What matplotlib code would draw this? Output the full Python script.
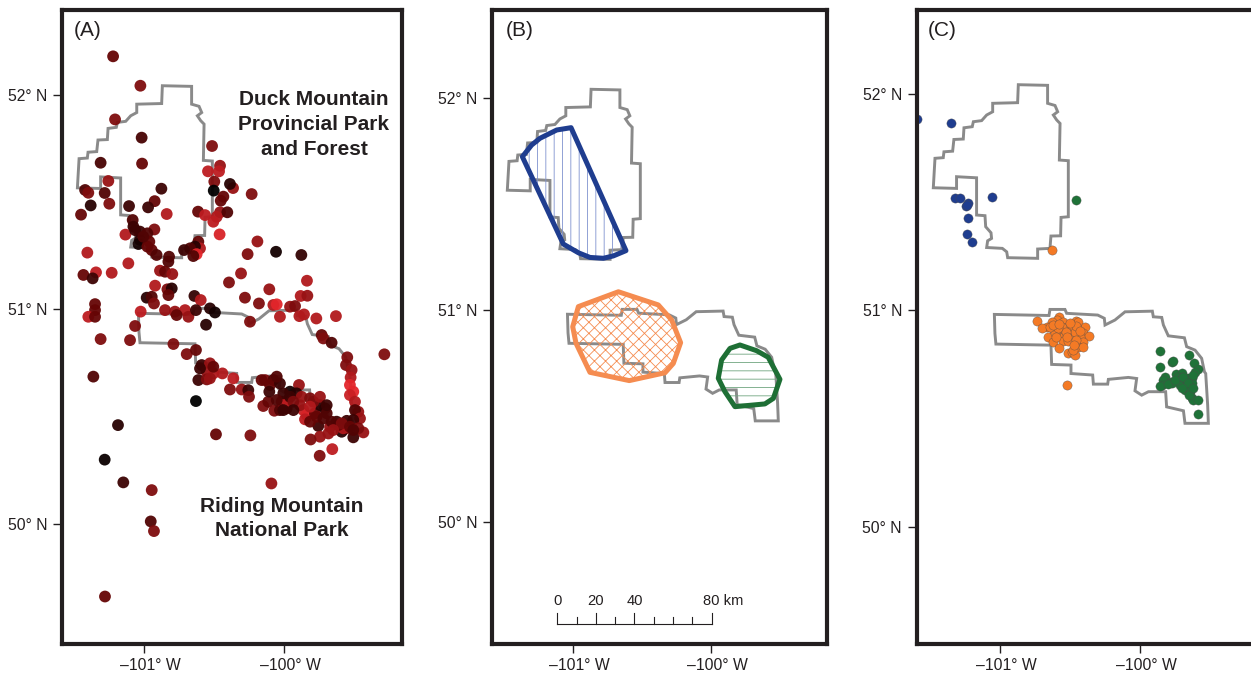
import matplotlib
matplotlib.use('Agg')
import matplotlib.pyplot as plt
from matplotlib.colors import LinearSegmentedColormap
from matplotlib.patches import Polygon
from matplotlib.transforms import ScaledTranslation

plt.rcParams['font.family'] = ['Liberation Sans', 'DejaVu Sans']
plt.rcParams['hatch.linewidth'] = 0.6

W, H = 1251, 673
TINTA = '#231f20'

# Limites de los parques (lon, lat)
duck_lon = [-100.869, -100.660, -100.660, -100.607, -100.588, -100.619, -100.595, -100.571, -100.576, -100.512,
            -100.512, -100.564, -100.567, -100.636, -100.643, -100.731, -100.731, -100.945, -100.952, -100.983,
            -101.095, -101.088, -101.060, -101.064, -101.102, -101.107, -101.167, -101.167, -101.310, -101.310,
            -101.476, -101.464, -101.405, -101.400, -101.338, -101.329, -101.262, -101.257, -101.198, -101.190,
            -101.131, -101.095, -101.052, -101.052, -100.874]
duck_lat = [52.041, 52.038, 51.955, 51.945, 51.916, 51.901, 51.878, 51.862, 51.693, 51.690,
            51.431, 51.428, 51.343, 51.342, 51.285, 51.282, 51.239, 51.242, 51.269, 51.285,
            51.289, 51.320, 51.331, 51.357, 51.385, 51.436, 51.439, 51.611, 51.616, 51.562,
            51.565, 51.701, 51.704, 51.731, 51.734, 51.788, 51.790, 51.842, 51.847, 51.870,
            51.875, 51.901, 51.916, 51.955, 51.958]
riding_lon = [-101.040, -100.650, -100.643, -100.536, -100.524, -100.302, -100.255, -100.250, -100.179, -100.107,
              -99.912, -99.905, -99.845, -99.833, -99.798, -99.683, -99.667, -99.607, -99.560, -99.540,
              -99.531, -99.517, -99.512, -99.679, -99.690, -99.810, -99.817, -99.940, -99.988, -100.036,
              -100.024, -100.083, -100.226, -100.231, -100.333, -100.338, -100.493, -100.493, -100.631, -100.636,
              -101.029, -101.036]
riding_lat = [50.980, 50.975, 51.003, 51.003, 50.985, 50.977, 50.962, 50.931, 50.954, 50.992,
              50.995, 50.969, 50.966, 50.931, 50.881, 50.872, 50.831, 50.815, 50.777, 50.715,
              50.707, 50.561, 50.477, 50.477, 50.535, 50.553, 50.623, 50.623, 50.607, 50.627,
              50.684, 50.689, 50.680, 50.658, 50.658, 50.700, 50.707, 50.746, 50.749, 50.838,
              50.843, 50.892]

# Panel A: puntos (lon, lat, tono 0 negro - 1 rojo)
a_lon = [-101.221, -101.026, -101.207, -101.017, -101.310, -101.014, -100.514, -100.457, -100.543, -100.464,
         -100.498, -101.255, -100.876, -100.364, -100.386, -100.502, -100.231, -101.421, -101.398, -101.281,
         -100.433, -100.452, -100.924, -101.381, -101.248, -101.450, -101.107, -100.971, -100.838, -100.614,
         -100.564, -100.457, -100.405, -100.481, -100.505, -101.081, -101.076, -100.926, -101.133, -100.460,
         -101.029, -100.976, -101.029, -101.040, -100.962, -100.976, -100.945, -100.910, -100.821, -101.112,
         -100.190, -100.260, -100.057, -99.876, -101.405, -100.612, -100.600, -100.636, -100.671, -100.714,
         -100.624, -100.648, -100.826, -100.886, -100.850, -100.798, -101.433, -101.343, -101.367, -101.231,
         -100.307, -100.393, -99.836, -100.921, -100.833, -100.802, -100.826, -100.105, -100.981, -100.945,
         -100.929, -100.640, -100.595, -100.279, -99.881, -99.833, -100.179, -100.076, -100.052, -99.957,
         -99.921, -101.350, -101.350, -101.024, -100.850, -100.779, -100.707, -100.683, -100.767, -100.629,
         -100.529, -100.493, -100.029, -99.890, -99.857, -99.769, -99.629, -101.398, -101.350, -100.243,
         -101.064, -100.557, -101.310, -101.100, -100.790, -100.695, -100.629, -99.731, -99.719, -99.660,
         -99.548, -99.283, -99.557, -99.517, -99.524, -99.529, -99.505, -99.529, -99.493, -99.469,
         -99.493, -99.457, -99.505, -99.433, -99.505, -99.564, -99.588, -101.362, -100.588, -100.529,
         -100.552, -100.505, -100.440, -100.600, -100.612, -100.552, -100.362, -100.386, -100.302, -100.255,
         -100.250, -100.629, -101.186, -100.486, -100.240, -100.148, -100.112, -100.069, -100.029, -99.981,
         -100.136, -100.076, -100.100, -100.029, -100.105, -99.893, -99.957, -99.910, -100.017, -99.976,
         -99.874, -99.814, -99.957, -99.862, -99.838, -99.850, -99.886, -99.779, -99.743, -99.707,
         -99.695, -99.755, -99.743, -99.810, -99.683, -99.671, -99.576, -99.612, -99.655, -99.745,
         -101.281, -101.148, -100.945, -100.090, -100.952, -100.929, -101.279, -99.624, -99.552,
         -100.160, -100.052, -100.005, -99.933, -99.933, -99.790, -99.767, -99.719, -99.660, -99.588,
         -99.529, -99.469, -99.648, -99.505, -99.743, -99.695, -100.052, -100.005, -99.814, -99.814,
         -100.529, -100.505, -101.064, -101.005]
a_lat = [52.178, 52.041, 51.884, 51.799, 51.682, 51.678, 51.760, 51.668, 51.642, 51.642,
         51.594, 51.597, 51.561, 51.564, 51.583, 51.552, 51.536, 51.555, 51.542, 51.541,
         51.524, 51.505, 51.503, 51.483, 51.491, 51.440, 51.480, 51.474, 51.443, 51.454,
         51.438, 51.451, 51.451, 51.430, 51.407, 51.415, 51.384, 51.371, 51.347, 51.348,
         51.361, 51.353, 51.322, 51.303, 51.314, 51.291, 51.275, 51.252, 51.244, 51.213,
         51.315, 51.256, 51.267, 51.252, 51.263, 51.314, 51.283, 51.291, 51.283, 51.275,
         51.256, 51.247, 51.221, 51.179, 51.174, 51.163, 51.159, 51.171, 51.143, 51.169,
         51.166, 51.124, 51.132, 51.109, 51.092, 51.096, 51.065, 51.092, 51.053, 51.057,
         51.026, 51.061, 51.042, 51.053, 51.061, 51.062, 51.026, 51.019, 51.022, 51.011,
         51.014, 51.023, 50.995, 50.988, 50.995, 50.988, 50.995, 50.964, 50.972, 50.995,
         51.003, 50.984, 50.964, 50.967, 50.975, 50.956, 50.967, 50.964, 50.964, 50.941,
         50.921, 50.927, 50.860, 50.855, 50.837, 50.790, 50.809, 50.879, 50.863, 50.843,
         50.775, 50.789, 50.739, 50.716, 50.681, 50.646, 50.615, 50.599, 50.568, 50.521,
         50.529, 50.490, 50.483, 50.425, 50.402, 50.441, 50.428, 50.685, 50.739, 50.747,
         50.708, 50.700, 50.700, 50.723, 50.669, 50.672, 50.677, 50.625, 50.625, 50.622,
         50.591, 50.571, 50.459, 50.416, 50.411, 50.548, 50.568, 50.526, 50.529, 50.537,
         50.669, 50.669, 50.646, 50.653, 50.615, 50.646, 50.615, 50.607, 50.568, 50.573,
         50.591, 50.584, 50.591, 50.529, 50.506, 50.486, 50.552, 50.514, 50.552, 50.537,
         50.514, 50.455, 50.405, 50.392, 50.420, 50.451, 50.444, 50.459, 50.347, 50.316,
         50.298, 50.192, 50.156, 50.187, 50.010, 49.965, 49.660, 50.475, 50.479,
         50.669, 50.685, 50.607, 50.568, 50.529, 50.568, 50.498, 50.490, 50.475, 50.467,
         50.451, 50.444, 50.436, 50.436, 50.591, 50.552, 50.576, 50.529, 50.545, 50.475,
         50.677, 50.731, 51.368, 51.337]
a_tono = [.5, .6, .6, .35, .35, .5, .6, .7, .85, .85,
          .6, .7, .3, .7, .2, 0, .6, .4, .6, .4,
          .5, .5, .5, .2, .6, .5, .3, .3, .8, .5,
          .85, .7, .4, .8, .85, .4, .3, .6, .8, .95,
          .3, .4, .2, .1, .5, .5, .5, .4, .4, .8,
          .7, .6, .1, .25, .8, .5, .8, .2, .4, .3,
          1, .4, .4, .7, .5, .7, .5, .85, .3, .8,
          .7, .6, .8, .8, .6, .2, .5, .7, .2, .4,
          .6, .25, .8, .6, .8, .7, .6, .8, 1, .7,
          .6, .5, .5, .85, .7, .7, .8, .7, .5, .3,
          .2, .1, .8, .8, .8, .8, .8, .85, .5, .6,
          .6, .2, .6, .6, .6, .6, .5, .5, .6, .4,
          .6, .6, .6, .7, .8, 1, 1, .9, .8, .7,
          .4, .7, .3, .7, .3, .7, .2, .4, .3, .7,
          .7, .8, .8, .3, .3, .6, .85, .6, .7, .3,
          .6, 0, .2, .5, .6, .6, .5, .6, .4, .4,
          .6, .4, .5, .3, .3, .7, .1, .2, .6, .85,
          .7, .6, .3, .9, .95, .85, .7, .5, .2, .2,
          .4, .3, .7, .6, .7, .7, .8, .5, .85, .6,
          .05, .3, .6, .7, .4, .6, .5, .3, .3,
          .5, .4, .3, .6, .3, .6, .5, .4, .4, .6,
          .5, .6, .7, .4, .7, .3, .4, .3, .8, .5,
          .7, .5, .3, .4]

# Panel B: poligonos de las tres poblaciones
b_azul_lon = [-101.367, -101.300, -101.239, -101.118, -101.014, -100.616, -100.708, -100.780, -100.877, -100.961, -101.070]
b_azul_lat = [51.723, 51.778, 51.810, 51.849, 51.860, 51.280, 51.255, 51.244, 51.248, 51.270, 51.311]
b_naranja_lon = [-100.961, -100.671, -100.382, -100.285, -100.220, -100.273, -100.333, -100.592, -100.877, -100.978, -101.002]
b_naranja_lat = [51.016, 51.086, 51.024, 50.953, 50.846, 50.748, 50.704, 50.667, 50.706, 50.843, 50.921]
b_verde_lon = [-99.790, -99.669, -99.585, -99.500, -99.548, -99.609, -99.826, -99.899, -99.947, -99.923, -99.862]
b_verde_lat = [50.835, 50.808, 50.777, 50.673, 50.583, 50.557, 50.544, 50.615, 50.678, 50.764, 50.819]

# Panel C: puntos por grupo
c_azul_lon = [-101.595, -101.352, -101.321, -101.286, -101.226, -101.245, -101.238, -101.226, -101.060, -101.236, -101.198]
c_azul_lat = [51.881, 51.865, 51.519, 51.516, 51.493, 51.480, 51.485, 51.426, 51.523, 51.350, 51.313]
c_naranja_lon = [-100.631, -100.519, -100.733, -100.579, -100.595, -100.626, -100.552, -100.667, -100.698, -100.619,
                 -100.560, -100.512, -100.488, -100.455, -100.440, -100.393, -100.405, -100.364, -100.655, -100.607,
                 -100.548, -100.488, -100.429, -100.619, -100.548, -100.512, -100.405, -100.579, -100.440, -100.405,
                 -100.512, -100.488, -100.464, -100.476, -100.560, -100.643, -100.524, -100.583, -100.464,
                 -100.620, -100.580, -100.530, -100.460, -100.430, -100.600, -100.520, -100.460, -100.500, -100.470]
c_naranja_lat = [51.276, 50.654, 50.948, 50.966, 50.954, 50.946, 50.943, 50.920, 50.915, 50.911,
                 50.908, 50.923, 50.908, 50.951, 50.943, 50.923, 50.892, 50.881, 50.877, 50.892,
                 50.877, 50.877, 50.877, 50.854, 50.858, 50.858, 50.854, 50.823, 50.828, 50.828,
                 50.804, 50.808, 50.792, 50.815, 50.923, 50.923, 50.892, 50.915, 50.900,
                 50.930, 50.935, 50.900, 50.925, 50.905, 50.875, 50.875, 50.860, 50.940, 50.840]
c_verde_lon = [-100.457, -99.857, -99.650, -99.774, -99.762, -99.612, -99.860, -99.588, -99.607, -99.745,
               -99.702, -99.821, -99.833, -99.845, -99.857, -99.779, -99.726, -99.655, -99.631, -99.690,
               -99.714, -99.667, -99.631, -99.679, -99.643, -99.631, -99.619, -99.583, -99.583, -99.774,
               -99.702, -99.643, -99.800, -99.750, -99.690, -99.660, -99.700, -99.650, -99.620, -99.620]
c_verde_lat = [51.507, 50.811, 50.794, 50.760, 50.764, 50.757, 50.738, 50.727, 50.715, 50.704,
               50.711, 50.692, 50.677, 50.654, 50.649, 50.669, 50.689, 50.684, 50.684, 50.669,
               50.654, 50.654, 50.661, 50.630, 50.623, 50.592, 50.584, 50.586, 50.520, 50.661,
               50.692, 50.646, 50.660, 50.675, 50.690, 50.665, 50.640, 50.610, 50.640, 50.700]

# Ejes
lon_ticks = [-101, -100]
lon_labels = ['\u2013101\u00b0 W', '\u2013100\u00b0 W']
lat_ticks = [52, 51, 50]
lat_labels = ['52\u00b0 N', '51\u00b0 N', '50\u00b0 N']

# Barra de escala
escala_km = [0, 10, 20, 30, 40, 50, 60, 70, 80]
escala_labels = {0: '0', 20: '20', 40: '40', 80: '80 km'}
grados_por_km = 0.01399

cmap = LinearSegmentedColormap.from_list('rojos', ['#000000', '#650505', '#e3262b'])

fig = plt.figure(figsize=(W / 100, H / 100), dpi=100)


def crear_panel(izq, der, arriba, abajo, xlim, ylim, letra, letra_x):
    ax = fig.add_axes([izq / W, 1 - abajo / H, (der - izq) / W, (abajo - arriba) / H])
    ax.set_xlim(xlim)
    ax.set_ylim(ylim)
    ax.set_xticks(lon_ticks, lon_labels)
    ax.set_yticks(lat_ticks, lat_labels)
    ax.tick_params(length=6.5, width=1, labelsize=11.3, color=TINTA, labelcolor=TINTA)
    ax.tick_params(axis='x', pad=4)
    ax.tick_params(axis='y', pad=4)
    # las etiquetas de longitud van algo a la derecha de su marca
    corrimiento = ScaledTranslation(6 / 100, 0, fig.dpi_scale_trans)
    for lab in ax.get_xticklabels():
        lab.set_transform(lab.get_transform() + corrimiento)
    for s in ax.spines.values():
        s.set_linewidth(3)
        s.set_color(TINTA)
        s.set_zorder(10)
    ax.text(letra_x, 0.968, letra, transform=ax.transAxes, fontsize=15, color=TINTA, ha='left', va='center')
    return ax


def dibujar_limites(ax):
    for lon, lat in [(duck_lon, duck_lat), (riding_lon, riding_lat)]:
        ax.add_patch(Polygon(list(zip(lon, lat)), closed=True, fill=False, edgecolor='#8a8a8a',
                             linewidth=2.1, joinstyle='miter', zorder=2))


# Panel A
ax_a = crear_panel(62, 402, 10, 643.5, (-101.586, -99.157), (49.441, 52.394), '(A)', 0.035)
dibujar_limites(ax_a)
ax_a.scatter(a_lon, a_lat, c=a_tono, cmap=cmap, vmin=0, vmax=1, s=72, alpha=0.95, linewidths=0, zorder=3)
ax_a.text(-99.786, 51.862, 'Duck Mountain\nProvincial Park\nand Forest', fontsize=15, fontweight='bold',
          color=TINTA, ha='center', va='center', linespacing=1.4, zorder=5)
ax_a.text(-100.014, 50.023, 'Riding Mountain\nNational Park', fontsize=15, fontweight='bold',
          color=TINTA, ha='center', va='center', linespacing=1.35, zorder=5)

# Panel B
ax_b = crear_panel(492, 827, 10, 643.5, (-101.587, -99.159), (49.427, 52.415), '(B)', 0.042)
dibujar_limites(ax_b)
for lon, lat, color, tinta_hatch, hatch in [
    (b_azul_lon, b_azul_lat, '#1f3d8f', '#7f92cf', '||'),
    (b_naranja_lon, b_naranja_lat, '#f58c50', '#f58c50', 'xxx'),
    (b_verde_lon, b_verde_lat, '#1e6f35', '#6fa57f', '--'),
]:
    pts = list(zip(lon, lat))
    ax_b.add_patch(Polygon(pts, closed=True, fill=False, edgecolor=tinta_hatch, hatch=hatch, linewidth=0, zorder=3))
    ax_b.add_patch(Polygon(pts, closed=True, fill=False, edgecolor=color, linewidth=3.6, joinstyle='round', zorder=4))

lon0 = -101.114
trans = ax_b.get_xaxis_transform()
base_y = (643.5 - 624) / 633.5
ax_b.plot([lon0, lon0 + 80 * grados_por_km], [base_y, base_y], color=TINTA, lw=0.8, transform=trans, zorder=5)
for km in escala_km:
    x = lon0 + km * grados_por_km
    alto = 11 if km in escala_labels else 7
    ax_b.plot([x, x], [base_y, base_y + alto / 633.5], color=TINTA, lw=0.8, transform=trans, zorder=5)
    if km in escala_labels:
        ha = 'left' if km == 80 else 'center'
        ax_b.text(x - (9 / 138 if km == 80 else 0), base_y + 23 / 633.5, escala_labels[km], transform=trans,
                  fontsize=10.6, color=TINTA, ha=ha, va='center')

# Panel C (se sale por la derecha de la figura)
ax_c = crear_panel(916.5, 1255, 10, 643.5, (-101.596, -99.179), (49.460, 52.386), '(C)', 0.034)
dibujar_limites(ax_c)
for lon, lat, color in [(c_azul_lon, c_azul_lat, '#1f3d8f'),
                        (c_naranja_lon, c_naranja_lat, '#f47a25'),
                        (c_verde_lon, c_verde_lat, '#1f7238')]:
    ax_c.scatter(lon, lat, color=color, s=44, edgecolors='#4a4a4a', linewidths=0.25, zorder=3)

fig.savefig('out.png', dpi=100)
